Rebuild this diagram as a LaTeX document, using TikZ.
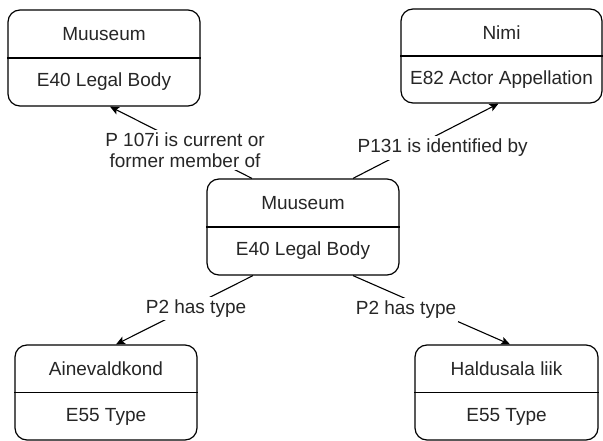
\documentclass[tikz,border=0pt]{standalone}
\usepackage{fontspec}
\setmainfont{Liberation Sans}
\usetikzlibrary{calc,arrows.meta}

\definecolor{ink}{gray}{0.15}

\tikzset{
  entity/.style={draw=black, line width=1.2pt, rounded corners=12pt, fill=white},
  celltext/.style={text=ink, inner sep=0pt, font=\fontsize{19}{21}\selectfont},
  relation/.style={draw=black, line width=1.1pt,
    -{Stealth[length=9pt,width=8pt,inset=2pt]}},
  lbl/.style={fill=white, text=ink, inner xsep=2pt, inner ysep=3pt,
    align=center, font=\fontsize{19}{21}\selectfont},
}

\begin{document}
\begin{tikzpicture}[x=1pt,y=-1pt]
  \useasboundingbox (0,0) rectangle (603,441);

  % entity boxes: name in the upper cell, CRM class in the lower cell
  \node[entity, minimum width=192pt, minimum height=96pt] (tl) at (104,58) {};
  \node[entity, minimum width=201pt, minimum height=94pt] (tr) at (501.5,56) {};
  \node[entity, minimum width=192pt, minimum height=96pt] (c)  at (303,227) {};
  \node[entity, minimum width=182pt, minimum height=95pt] (bl) at (106,392.5) {};
  \node[entity, minimum width=183pt, minimum height=95pt] (br) at (506.5,392.5) {};

  \foreach \b in {tl,tr,c,bl,br}{
    \draw[line width=1.2pt] (\b.west) -- (\b.east);
  }

  \node[celltext] (tlname)  at ($(tl.center)+(0,-24)$) {Muuseum};
  \node[celltext] (tlclass) at ($(tl.center)+(0,24)$)  {E40 Legal Body};
  \node[celltext] (trname)  at ($(tr.center)+(0,-23.5)$) {Nimi};
  \node[celltext] (trclass) at ($(tr.center)+(0,23.5)$)  {E82 Actor Appellation};
  \node[celltext] (cname)   at ($(c.center)+(0,-24)$) {Muuseum};
  \node[celltext] (cclass)  at ($(c.center)+(0,24)$)  {E40 Legal Body};
  \node[celltext] (blname)  at ($(bl.center)+(0,-24)$) {Ainevaldkond};
  \node[celltext] (blclass) at ($(bl.center)+(0,24)$)  {E55 Type};
  \node[celltext] (brname)  at ($(br.center)+(0,-24)$) {Haldusala liik};
  \node[celltext] (brclass) at ($(br.center)+(0,24)$)  {E55 Type};

  % properties linking the central legal body to the other entities
  \draw[relation] ($(c.north)+(-51,0)$) -- ($(tl.south)+(6,0)$)
    node[lbl, midway, xshift=4pt, yshift=-7.5pt] (p107) {P 107i is current or\\former member of};
  \draw[relation] ($(c.north)+(50,0)$) -- ($(tr.south)+(-3,0)$)
    node[lbl, midway, xshift=17pt, yshift=-7pt] (p131) {P131 is identified by};
  \draw[relation] ($(c.south)+(-50,0)$) -- ($(bl.north)+(10,0)$)
    node[lbl, midway, xshift=11.5pt, yshift=1.5pt] (p2a) {P2 has type};
  \draw[relation] ($(c.south)+(50,0)$) -- ($(br.north)+(3.5,0)$)
    node[lbl, midway, xshift=-25.5pt] (p2b) {P2 has type};
\end{tikzpicture}
\end{document}
